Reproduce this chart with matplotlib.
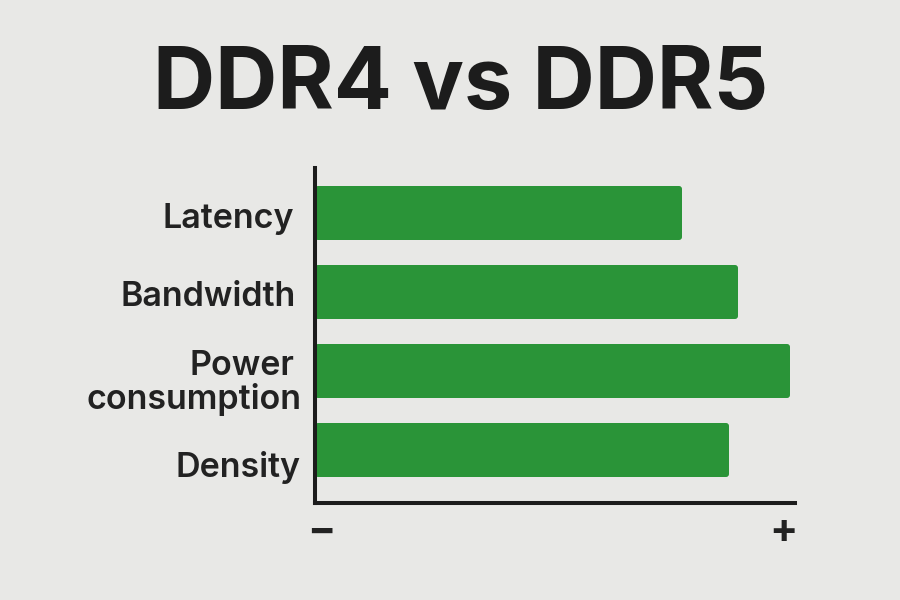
import matplotlib.pyplot as plt
from matplotlib.patches import FancyBboxPatch

categories = ['Latency', 'Bandwidth', 'Power consumption', 'Density']
values = [367, 423, 475, 414]
axis_ends = ['\u2212', '+']
title = 'DDR4 vs DDR5'

fig = plt.figure(figsize=(9, 6), dpi=100, facecolor='#e8e8e6')
ax = fig.add_axes([315 / 900, 1 - 503 / 600, 480 / 900, 335 / 600], facecolor='none')

positions = [213, 292, 371, 450]
bars = ax.barh(positions, values, height=54, left=0, color='#2a9438')
ax.set_xlim(0, 480)
ax.set_ylim(503, 168)

# swap the square bars for slightly rounded ones
for bar in bars:
    x, y = bar.get_x(), bar.get_y()
    w, h = bar.get_width(), bar.get_height()
    bar.set_visible(False)
    ax.add_patch(FancyBboxPatch((x + 2, y + 2), w - 4, h - 4, boxstyle='round,pad=2,rounding_size=3',
                                fc='#2a9438', ec='none'))

for s in ['top', 'right']:
    ax.spines[s].set_visible(False)
for s in ['left', 'bottom']:
    ax.spines[s].set_color('#1c1c1c')
    ax.spines[s].set_linewidth(2.9)

ax.tick_params(length=0)
ax.set_yticks([])

# labels are placed by hand, the lines of the two-line label do not share a right edge
label_lines = [['Latency'], ['Bandwidth'], ['Power', 'consumption'], ['Density']]
label_x = [[-21], [-19], [-21, -14], [-15]]
label_y = [[219], [297], [366, 400], [467]]
for lines, xs, ys in zip(label_lines, label_x, label_y):
    for line, lx, ly in zip(lines, xs, ys):
        ax.text(lx, ly, line, ha='right', va='center', fontsize=24.5, fontweight='semibold',
                color='#222222', family='Inter')

ax.set_xticks([6, 468])
ax.set_xticklabels(axis_ends, fontsize=30, fontweight='bold', color='#222222', family='Inter')
ax.tick_params(axis='x', pad=7)

fig.text(0.512, 1 - 86 / 600, title, ha='center', va='center', fontsize=62,
         fontweight='bold', color='#1c1c1c', family='Inter')

fig.savefig('out.png', dpi=100, facecolor=fig.get_facecolor())
